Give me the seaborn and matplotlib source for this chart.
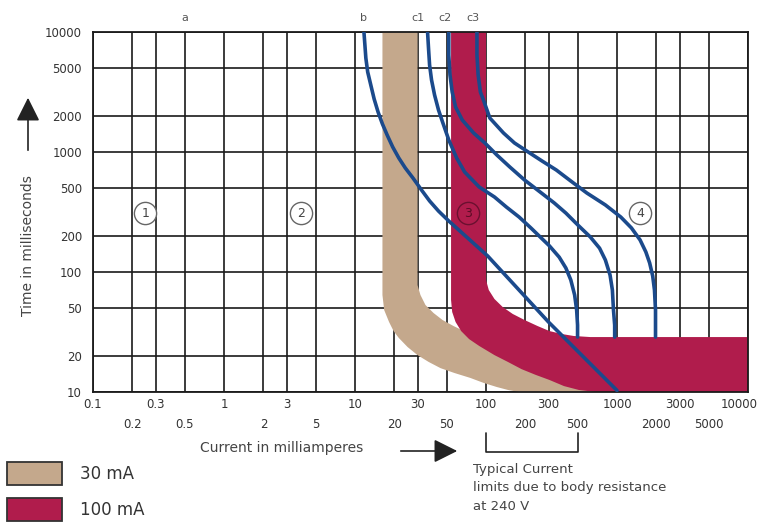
import matplotlib.pyplot as plt
import seaborn as sns
from matplotlib.patches import Rectangle, FancyArrowPatch
from matplotlib.transforms import blended_transform_factory, ScaledTranslation

# ---- data (current in mA, time in ms) ----
x_major = [0.1, 0.3, 1, 3, 10, 30, 100, 300, 1000, 3000, 10000]
x_minor = [0.2, 0.5, 2, 5, 20, 50, 200, 500, 2000, 5000]
y_ticks = [10, 20, 50, 100, 200, 500, 1000, 2000, 5000, 10000]

curve_b_x = [11.7, 11.9, 12.1, 12.5, 13.2, 14.0, 15.0, 16.2, 17.6, 19.4, 21.6,
             24.2, 27.7, 32.2, 37.1, 43.4, 52.0, 103, 300, 1000]
curve_b_y = [10000, 7795, 6067, 4642, 3617, 2766, 2154, 1711, 1385, 1101, 891,
             736, 607, 482, 391, 322, 266, 136, 38.3, 10.3]

curve_c1_x = [35.8, 36.4, 37.1, 38.4, 40.5, 43.4, 46.6, 52.0, 59.7, 68.7, 88.7, 116,
              143, 179, 220, 259, 305, 362, 407, 444, 475, 492, 500, 500]
curve_c1_y = [10000, 7356, 5309, 3981, 2985, 2239, 1778, 1259, 891, 681, 511, 422,
              348, 287, 233, 196, 165, 133, 108, 85.8, 64.3, 48.2, 36.1, 28.7]

curve_c2_x = [52.0, 52.0, 53.1, 55.2, 58.6, 65.9, 80.4, 98, 121, 152, 197, 259,
              332, 407, 511, 625, 736, 815, 885, 922, 940, 960, 960]
curve_c2_y = [10000, 6431, 4385, 3162, 2371, 1848, 1440, 1189, 944, 750, 584, 464,
              376, 310, 242, 196, 158, 126, 94.4, 70.8, 48.2, 36.1, 28.7]

curve_c3_x = [85.3, 85.3, 87.1, 90.6, 96.2, 107, 136, 165, 210, 268, 344, 444,
              589, 815, 1069, 1288, 1500, 1660, 1775, 1873, 1932, 1968, 1968]
curve_c3_y = [10000, 6431, 4385, 3162, 2661, 1919, 1440, 1189, 1000, 841, 708, 573,
              455, 362, 287, 233, 185, 147, 119, 92.6, 70.8, 48.2, 28.7]

# 30 mA band: outer edge (left/bottom) and inner edge (right/top)
band30_outer_x = [16.2, 16.2, 16.7, 18.2, 19.7, 21.6, 25.2, 30, 36.5, 45.0, 57.4,
                  75.9, 96, 121, 147, 179, 10000]
band30_outer_y = [10000, 64.3, 48.2, 38.3, 32.2, 28.2, 23.7, 20.3, 17.8, 15.8, 14.4,
                  13.1, 11.9, 11.0, 10.4, 10, 10]
band30_inner_x = [30, 30, 31.6, 34.5, 39.8, 46.6, 56.4, 72.8, 116, 220, 511, 10000]
band30_inner_y = [10000, 77.9, 64.3, 53.1, 45.5, 39.8, 35.5, 31.0, 25.6, 20.3, 17.4, 16.8]

# 100 mA band
band100_outer_x = [54.1, 54.1, 55.2, 58.6, 64.6, 74.3, 88.7, 116, 147, 187, 239,
                   305, 394, 511, 692, 10000]
band100_outer_y = [10000, 58.4, 46.4, 38.3, 32.2, 27.6, 24.2, 20.3, 17.8, 15.5, 13.9,
                   12.6, 11.2, 10.4, 10, 10]
band100_inner_x = [100, 100, 105, 116, 134, 160, 197, 247, 305, 381, 467, 625, 10000]
band100_inner_y = [10000, 85.8, 70.8, 59.6, 51.1, 44.7, 39.8, 35.5, 32.2, 30.4, 29.3,
                   28.7, 28.7]

zone_labels = ["1", "2", "3", "4"]
zone_x = [0.25, 3.9, 73, 1500]
zone_y = [310, 310, 310, 310]

top_labels = ["a", "b", "c1", "c2", "c3"]
top_label_x = [0.5, 11.7, 30, 49, 80]

bracket_x = [100, 100, 500, 500]

# ---- style ----
sns.set_theme(style="white")
plt.rcParams["font.family"] = ["DejaVu Sans"]

BEIGE = "#c4a88c"
RED = "#b01c4c"
BLUE = "#1b4a8c"
GRID = "#1a1a1a"
TXT = "#333333"

W, H = 762, 523
fig = plt.figure(figsize=(W / 100, H / 100), dpi=100)
ax = fig.add_axes([93 / W, 1 - 392 / H, 655 / W, 360 / H])


def fp(x, y):
    return (x / W, 1 - y / H)


ax.set_xscale("log")
ax.set_yscale("log")
ax.set_xlim(0.1, 10000)
ax.set_ylim(10, 10000)

# bands
ax.fill(band30_outer_x + band30_inner_x[::-1],
        band30_outer_y + band30_inner_y[::-1],
        color=BEIGE, lw=0, zorder=1)
ax.fill(band100_outer_x + band100_inner_x[::-1],
        band100_outer_y + band100_inner_y[::-1],
        color=RED, lw=0, zorder=1.5)

# trip curves
for cx, cy in [(curve_b_x, curve_b_y), (curve_c1_x, curve_c1_y),
               (curve_c2_x, curve_c2_y), (curve_c3_x, curve_c3_y)]:
    sns.lineplot(x=cx, y=cy, sort=False, estimator=None, ax=ax,
                 color=BLUE, lw=2.6, zorder=3)

# zone markers
for lab, zx, zy in zip(zone_labels, zone_x, zone_y):
    face = RED if lab == "3" else "white"
    edge = "#6b1030" if lab == "3" else "#666666"
    ax.plot([zx], [zy], marker="o", ms=16, mfc=face, mec=edge, mew=1.0,
            zorder=4, clip_on=False)
    ax.text(zx, zy, lab, ha="center", va="center", fontsize=9,
            color="#5a0c25" if lab == "3" else "#444444", zorder=5)

# ticks and grid
ax.set_xticks(x_major, [f"{v:g}" for v in x_major])
ax.set_xticks(x_minor, [f"{v:g}" for v in x_minor], minor=True)
ax.set_yticks(y_ticks, [f"{v:g}" for v in y_ticks])
ax.set_yticks([], minor=True)
ax.tick_params(axis="x", which="major", length=0, pad=4, labelsize=8.5, labelcolor=TXT)
ax.tick_params(axis="x", which="minor", length=0, pad=19, labelsize=8.5, labelcolor=TXT)
ax.tick_params(axis="y", which="both", length=0, pad=8, labelsize=8.5, labelcolor=TXT)
last = ax.get_xticklabels()[-1]
last.set_transform(last.get_transform() + ScaledTranslation(-0.09, 0, fig.dpi_scale_trans))
ax.set_axisbelow(True)
ax.grid(True, which="both", color=GRID, lw=1.2)
for s in ax.spines.values():
    s.set_color(GRID)
    s.set_linewidth(1.3)
ax.set_xlabel("")
ax.set_ylabel("")

# curve labels above the plot
trans = blended_transform_factory(ax.transData, ax.transAxes)
for lab, lx in zip(top_labels, top_label_x):
    ax.text(lx, 1.039, lab, transform=trans, ha="center", va="center",
            fontsize=8, color="#555555")

# bracket for typical current limits
ax.plot(bracket_x, [-0.114, -0.167, -0.167, -0.114], transform=trans,
        color="#222222", lw=1.2, clip_on=False)

# axis titles and arrows
fig.text(*fp(28, 246), "Time in milliseconds", rotation=90, ha="center",
         va="center", fontsize=10, color="#444444")
fig.add_artist(FancyArrowPatch(fp(28, 153), fp(28, 95), transform=fig.transFigure,
                               arrowstyle="-|>,head_length=0.9,head_width=0.45",
                               mutation_scale=16, color="#222222", lw=1.2))
fig.text(*fp(282, 448), "Current in milliamperes", ha="center", va="center",
         fontsize=10, color="#444444")
fig.add_artist(FancyArrowPatch(fp(398, 451), fp(460, 451), transform=fig.transFigure,
                               arrowstyle="-|>,head_length=0.9,head_width=0.45",
                               mutation_scale=16, color="#222222", lw=1.2))

fig.text(*fp(473, 469), "Typical Current", ha="left", va="center",
         fontsize=9.5, color="#444444")
fig.text(*fp(473, 487), "limits due to body resistance", ha="left", va="center",
         fontsize=9.5, color="#444444")
fig.text(*fp(473, 506), "at 240 V", ha="left", va="center",
         fontsize=9.5, color="#444444")

# legend boxes
for top, col, lab in [(462, BEIGE, "30 mA"), (498, RED, "100 mA")]:
    x0, y0 = fp(7, top + 23)
    fig.add_artist(Rectangle((x0, y0), 55 / W, 23 / H, transform=fig.transFigure,
                             facecolor=col, edgecolor="#333333", lw=1.3))
    fig.text(*fp(80, top + 12), lab, ha="left", va="center", fontsize=12,
             color="#333333")

fig.savefig("out.png", dpi=100)
